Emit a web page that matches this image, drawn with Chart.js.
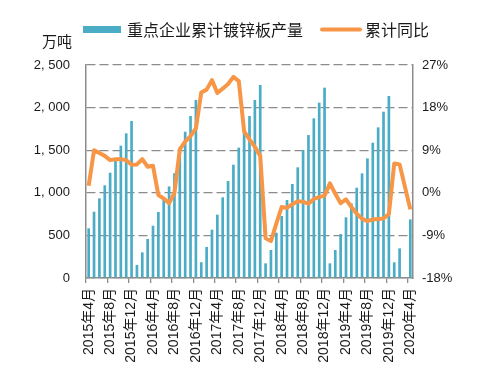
<!DOCTYPE html>
<html>
<head>
<meta charset="utf-8">
<script src="https://cdn.jsdelivr.net/npm/chart.js@4.4.0/dist/chart.umd.min.js"></script>
<style>
  body { margin: 0; background: #fff; }
</style>
</head>
<body>
<canvas id="myChart" width="491" height="385"></canvas>
<script>
// 月份：2015年4月 ~ 2020年4月
const months = []
for (let y = 2015; y <= 2020; y++) {
  for (let m = 1; m <= 12; m++) {
    if (y === 2015 && m < 4) continue
    if (y === 2020 && m > 4) break
    months.push(y + '年' + m + '月')
  }
}

// 重点企业累计镀锌板产量（万吨），2020年3月缺失
const output = [
  583, 778, 935, 1088, 1236, 1393, 1553, 1698, 1843,
  153, 301, 458, 614, 775, 950, 1075, 1230, 1480, 1717, 1901, 2090,
  185, 365, 567, 743, 947, 1138, 1330, 1530, 1717, 1901, 2089, 2265,
  172, 329, 532, 728, 915, 1103, 1299, 1502, 1678, 1874, 2058, 2234,
  172, 329, 516, 712, 876, 1060, 1228, 1404, 1588, 1768, 1952, 2136,
  184, 348, null, 688
]

// 累计同比（%）
const yoy = [
  1.5, 9.0, 8.4, 7.8, 6.9, 7.1, 7.1, 6.9, 5.9,
  6.0, 7.1, 5.5, 5.7, -0.5, -1.2, -2.2, 0.0, 9.2, 10.8, 12.0, 13.6,
  21.2, 21.8, 23.8, 21.1, 22.0, 23.0, 24.5, 23.6, 13.0, 11.3, 9.7, 7.8,
  -9.6, -10.2, -6.5, -3.0, -3.2, -2.4, -1.8, -1.9, -2.3, -1.3, -0.9, -0.6,
  2.0, -0.2, -2.2, -1.4, -3.0, -4.4, -5.5, -6.0, -5.6, -5.6, -5.4, -4.5,
  6.2, 6.0, null, -3.5
]

const leftTickLabels = ['0', '500', '1, 000', '1, 500', '2, 000', '2, 500']
const rightTickLabels = ['-18%', '-9%', '0%', '9%', '18%', '27%']

const barColor = '#4bacc6'
const lineColor = '#f79646'
const gridColor = '#8c8c8c'
const textColor = '#1a1a1a'
const fontFamily = '"Liberation Sans", "Noto Sans CJK SC", sans-serif'

// 图例和单位
const legendPlugin = {
  id: 'legendText',
  afterDraw(chart) {
    const ctx = chart.ctx
    ctx.save()
    ctx.fillStyle = barColor
    ctx.fillRect(83, 26, 38, 7)
    ctx.strokeStyle = lineColor
    ctx.lineWidth = 4
    ctx.lineCap = 'round'
    ctx.beginPath()
    ctx.moveTo(322, 29.5)
    ctx.lineTo(360, 29.5)
    ctx.stroke()
    ctx.fillStyle = textColor
    ctx.textBaseline = 'middle'
    ctx.font = '16px "Noto Sans CJK SC"'
    ctx.fillText(chart.data.datasets[0].label, 127, 30)
    ctx.fillText(chart.data.datasets[1].label, 365, 30)
    ctx.font = '15px "Noto Sans CJK SC"'
    ctx.fillText('万吨', 42, 41)
    ctx.restore()
  }
}

const data = {
  labels: months,
  datasets: [
    {
      type: 'bar',
      label: '重点企业累计镀锌板产量',
      data: output,
      backgroundColor: barColor,
      yAxisID: 'y',
      categoryPercentage: 1,
      barPercentage: 0.5,
      order: 2
    },
    {
      type: 'line',
      label: '累计同比',
      data: yoy,
      borderColor: lineColor,
      borderWidth: 4,
      pointRadius: 0,
      tension: 0,
      spanGaps: true,
      borderJoinStyle: 'round',
      yAxisID: 'y1',
      order: 1
    }
  ]
}

const config = {
  type: 'bar',
  data,
  options: {
    responsive: false,
    devicePixelRatio: 1,
    animation: false,
    layout: { padding: { top: 65, left: 0, right: 0, bottom: 0 } },
    plugins: {
      legend: { display: false },
      tooltip: { enabled: false }
    },
    scales: {
      x: {
        offset: true,
        grid: {
          offset: true,
          drawOnChartArea: false,
          drawTicks: true,
          tickLength: 5,
          color: (c) => (c.index % 4 === 0 ? gridColor : 'rgba(0,0,0,0)'),
          lineWidth: 1.3
        },
        border: { display: true, color: gridColor, width: 1.5 },
        ticks: {
          autoSkip: false,
          minRotation: 90,
          maxRotation: 90,
          padding: 5,
          color: textColor,
          font: { family: fontFamily, size: 14 },
          callback: (v, i) => (i % 4 === 0 ? months[i] : '')
        },
        afterFit: (s) => { s.height = 107 }
      },
      y: {
        position: 'left',
        min: 0,
        max: 2500,
        grid: { color: gridColor, lineWidth: 1.3, drawTicks: false },
        border: { display: true, color: gridColor, width: 1.5, dash: [9, 4] },
        ticks: {
          stepSize: 500,
          padding: 16,
          color: textColor,
          font: { family: fontFamily, size: 13 },
          callback: (v, i) => leftTickLabels[i]
        },
        afterFit: (s) => { s.width = 86 }
      },
      y1: {
        position: 'right',
        min: -18,
        max: 27,
        grid: { display: false, drawTicks: false },
        border: { display: true, color: gridColor, width: 1.5 },
        ticks: {
          stepSize: 9,
          padding: 9,
          color: textColor,
          font: { family: fontFamily, size: 13 },
          callback: (v, i) => rightTickLabels[i]
        },
        afterFit: (s) => { s.width = 78 }
      }
    }
  },
  plugins: [legendPlugin]
}

const myChart = document.getElementById('myChart')
new Chart(myChart, config)
</script>
</body>
</html>
